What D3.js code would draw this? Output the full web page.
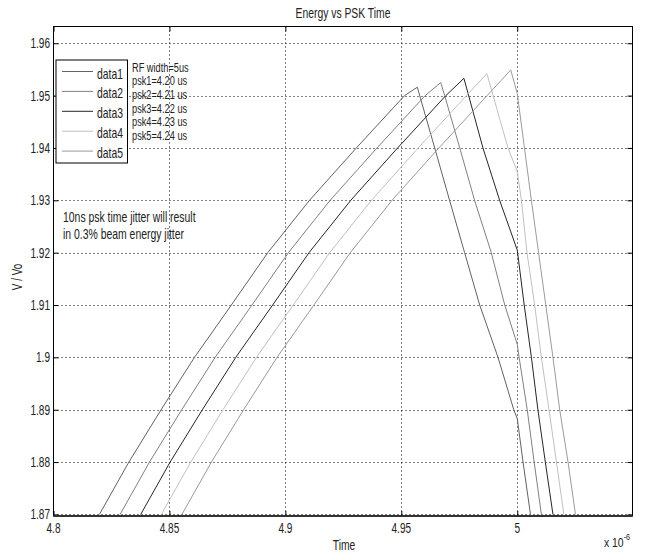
<!DOCTYPE html>
<html><head><meta charset="utf-8">
<script src="https://cdn.jsdelivr.net/npm/d3@7"></script>
<style>
body{margin:0;background:#fff;}
svg text{font-family:'Liberation Sans','Arial',sans-serif;fill:#222;}
</style>
</head><body>
<svg id="chart" width="652" height="560"></svg>
<script>
// ---- data (time in units of 1e-6 s) ----
const xTicks = [4.8, 4.85, 4.9, 4.95, 5];
const xTickLabels = ["4.8", "4.85", "4.9", "4.95", "5"];
const yTicks = [1.87, 1.88, 1.89, 1.9, 1.91, 1.92, 1.93, 1.94, 1.95, 1.96];
const yTickLabels = ["1.87", "1.88", "1.89", "1.9", "1.91", "1.92", "1.93", "1.94", "1.95", "1.96"];
const seriesNames = ["data1", "data2", "data3", "data4", "data5"];
const seriesColors = ["#626262", "#808080", "#262626", "#c0c0c0", "#9a9a9a"];
const annotationLines = ["RF width=5us", "psk1=4.20 us", "psk2=4.21 us", "psk3=4.22 us", "psk4=4.23 us", "psk5=4.24 us"];
const noteLines = ["10ns psk time jitter will result", "in 0.3% beam energy jitter"];

const data1Time  = [4.8198, 4.8325, 4.8464, 4.8608, 4.8767, 4.8924, 4.9104, 4.9306, 4.9514, 4.9569, 4.9644, 4.9708, 4.9773, 4.9838, 4.9917, 4.9985, 5.0000, 5.0025, 5.0057];
const data1Value = [1.87, 1.88, 1.89, 1.90, 1.91, 1.92, 1.93, 1.94, 1.95, 1.9516, 1.94, 1.93, 1.92, 1.91, 1.90, 1.89, 1.8883, 1.88, 1.87];

const data2Time  = [4.8287, 4.8414, 4.8553, 4.8697, 4.8856, 4.9013, 4.9193, 4.9395, 4.9603, 4.9670, 4.9687, 4.9752, 4.9816, 4.9888, 4.9946, 5.0000, 5.0008, 5.0043, 5.0073, 5.0104];
const data2Value = [1.87, 1.88, 1.89, 1.90, 1.91, 1.92, 1.93, 1.94, 1.95, 1.9525, 1.95, 1.94, 1.93, 1.92, 1.91, 1.9025, 1.90, 1.89, 1.88, 1.87];

const data3Time  = [4.8376, 4.8503, 4.8642, 4.8786, 4.8945, 4.9102, 4.9282, 4.9484, 4.9692, 4.9770, 4.9852, 4.9924, 5.0000, 5.0030, 5.0061, 5.0089, 5.0121, 5.0154];
const data3Value = [1.87, 1.88, 1.89, 1.90, 1.91, 1.92, 1.93, 1.94, 1.95, 1.9533, 1.94, 1.93, 1.9205, 1.91, 1.90, 1.89, 1.88, 1.87];

const data4Time  = [4.8465, 4.8592, 4.8731, 4.8875, 4.9034, 4.9191, 4.9371, 4.9573, 4.9781, 4.9869, 4.9960, 5.0000, 5.0018, 5.0042, 5.0075, 5.0104, 5.0137, 5.0169, 5.0201];
const data4Value = [1.87, 1.88, 1.89, 1.90, 1.91, 1.92, 1.93, 1.94, 1.95, 1.9542, 1.94, 1.9355, 1.93, 1.92, 1.91, 1.90, 1.89, 1.88, 1.87];

const data5Time  = [4.8554, 4.8681, 4.8820, 4.8964, 4.9123, 4.9280, 4.9460, 4.9662, 4.9870, 4.9972, 5.0000, 5.0031, 5.0061, 5.0092, 5.0123, 5.0154, 5.0183, 5.0219, 5.0251];
const data5Value = [1.87, 1.88, 1.89, 1.90, 1.91, 1.92, 1.93, 1.94, 1.95, 1.9549, 1.9504, 1.94, 1.93, 1.92, 1.91, 1.90, 1.89, 1.88, 1.87];

const seriesTimes = [data1Time, data2Time, data3Time, data4Time, data5Time];
const seriesValues = [data1Value, data2Value, data3Value, data4Value, data5Value];

// ---- layout ----
const L = 53.5, T = 26.5, R = 632.5, B = 516;
const SX = 0.73; // condensed text
const svg = d3.select("#chart");
const x = d3.scaleLinear().domain([4.8, 5.0497]).range([L, R]);
const y = d3.scaleLinear().domain([1.8697, 1.9632]).range([B, T]);

function ctext(parent, px, py, str, size, anchor, sx, rot) {
  const tr = `translate(${px},${py})` + (rot ? ` rotate(${rot})` : "") + ` scale(${sx || SX},1)`;
  return parent.append("text").attr("transform", tr).attr("text-anchor", anchor || "start")
    .attr("font-size", size).text(str);
}

// grid
const grid = svg.append("g").attr("stroke", "#000").attr("stroke-width", 1).attr("stroke-dasharray", "1,3");
grid.selectAll(".gx").data(xTicks.slice(1)).enter().append("line")
  .attr("x1", d => Math.round(x(d)) + 0.5).attr("x2", d => Math.round(x(d)) + 0.5)
  .attr("y1", T).attr("y2", B);
grid.selectAll(".gy").data(yTicks).enter().append("line")
  .attr("y1", d => Math.round(y(d)) + 0.5).attr("y2", d => Math.round(y(d)) + 0.5)
  .attr("x1", L).attr("x2", R);

// series
svg.append("clipPath").attr("id", "clip").append("rect")
  .attr("x", L).attr("y", T).attr("width", R - L).attr("height", B - T);
const line = d3.line().x(d => x(d[0])).y(d => y(d[1]));
const lines = svg.append("g").attr("clip-path", "url(#clip)");
seriesTimes.forEach((ts, i) => {
  const pts = ts.map((t, j) => [t, seriesValues[i][j]]);
  lines.append("path").attr("d", line(pts)).attr("fill", "none")
    .attr("stroke", seriesColors[i]).attr("stroke-width", 1);
});

// axes (MATLAB box with inward ticks)
const tickLen = 5;
function styleAxis(g) {
  g.select(".domain").remove();
  g.selectAll("line").attr("stroke", "#000");
  g.selectAll("text").remove();
}
svg.append("g").attr("transform", `translate(0,${B})`).call(d3.axisBottom(x).tickValues(xTicks).tickSize(-tickLen)).call(styleAxis);
svg.append("g").attr("transform", `translate(0,${T})`).call(d3.axisTop(x).tickValues(xTicks).tickSize(-tickLen)).call(styleAxis);
svg.append("g").attr("transform", `translate(${L},0)`).call(d3.axisLeft(y).tickValues(yTicks).tickSize(-tickLen)).call(styleAxis);
svg.append("g").attr("transform", `translate(${R},0)`).call(d3.axisRight(y).tickValues(yTicks).tickSize(-tickLen)).call(styleAxis);

svg.append("rect").attr("x", L).attr("y", T).attr("width", R - L).attr("height", B - T)
  .attr("fill", "none").attr("stroke", "#000").attr("stroke-width", 1);
svg.append("line").attr("x1", L).attr("x2", R).attr("y1", B).attr("y2", B)
  .attr("stroke", "#333").attr("stroke-width", 2);

// tick labels
const tl = svg.append("g");
xTicks.forEach((d, i) => ctext(tl, x(d), 533, xTickLabels[i], 14, "middle", 0.72));
yTicks.forEach((d, i) => ctext(tl, 50, y(d) + 5, yTickLabels[i], 14, "end", 0.72));

// title & labels
ctext(svg, (L + R) / 2, 17.5, "Energy vs PSK Time", 14, "middle", 0.74);
ctext(svg, 344, 550, "Time", 14, "middle", 0.74);
ctext(svg, 22, 277, "V / Vo", 15, "middle", 0.66, -90);
const ex = ctext(svg, 604, 547, "", 13, "start", 0.8);
ex.append("tspan").text("x 10");
ex.append("tspan").attr("dy", -7).attr("font-size", 9).text("-6");

// legend
const leg = svg.append("g");
leg.append("rect").attr("x", 56).attr("y", 60).attr("width", 71.5).attr("height", 103)
  .attr("fill", "#fff").attr("stroke", "#000").attr("stroke-width", 1);
seriesNames.forEach((n, i) => {
  const yy = 71.5 + i * 19.9;
  leg.append("line").attr("x1", 62).attr("x2", 93).attr("y1", yy).attr("y2", yy)
    .attr("stroke", seriesColors[i]).attr("stroke-width", 1);
  ctext(leg, 97, yy + 7, n, 14, "start", 0.74);
});

// annotations
annotationLines.forEach((s, i) => ctext(svg, 132, 71.5 + i * 13.7, s, 13, "start", 0.71));
noteLines.forEach((s, i) => ctext(svg, 63, 222 + i * 16.7, s, 14, "start", 0.745));
</script>
</body></html>
